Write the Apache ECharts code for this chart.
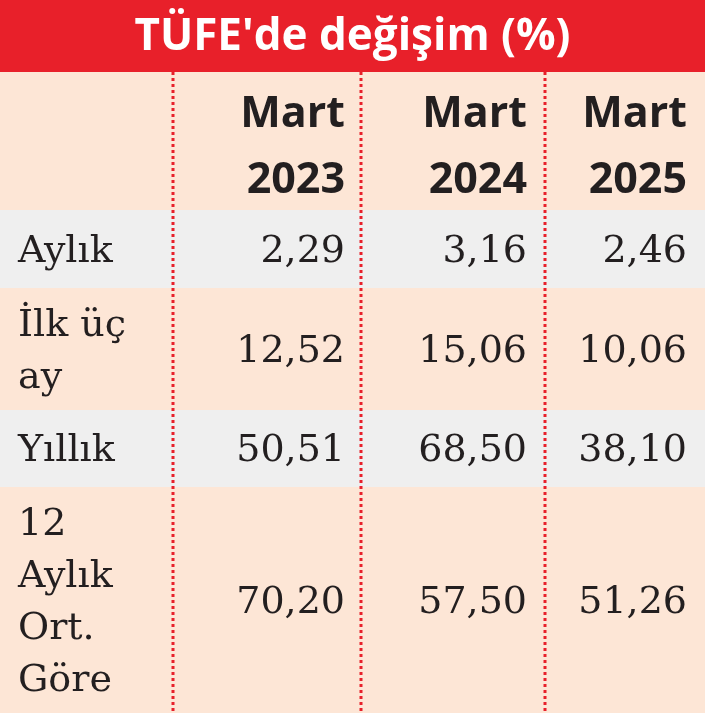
<!DOCTYPE html>
<html><head><meta charset="utf-8">
<script src="https://cdn.jsdelivr.net/npm/echarts@6/dist/echarts.min.js"></script>
<style>html,body{margin:0;padding:0;background:#fde6d6}#c{width:705px;height:713px}</style>
</head><body><div id="c"></div>
<script>
const title = "TÜFE'de değişim (%)";
const columns = ['Mart\n2023', 'Mart\n2024', 'Mart\n2025'];
const rowLabels = ['Aylık', 'İlk üç\nay', 'Yıllık', '12\nAylık\nOrt.\nGöre'];
const values = [
  ['2,29', '3,16', '2,46'],
  ['12,52', '15,06', '10,06'],
  ['50,51', '68,50', '38,10'],
  ['70,20', '57,50', '51,26'],
];

// layout
const W = 705, H = 713;
const rowEdges = [72, 210, 288, 410, 487, 713];
const colRight = [345, 527, 687];
const dividers = [173, 361, 545];
const red = '#e8202a', peach = '#fde6d6', grey = '#efefef';

const chart = echarts.init(document.getElementById('c'));
const g = [];
g.push({ type: 'rect', shape: { x: 0, y: 0, width: W, height: 72 }, style: { fill: red } });
g.push({ type: 'text', x: W / 2, y: 37, style: { text: title, fill: '#fff', font: 'bold 44px "Open Sans", sans-serif', align: 'center', verticalAlign: 'middle' } });
for (let i = 0; i < rowEdges.length - 1; i++) {
  g.push({ type: 'rect', shape: { x: 0, y: rowEdges[i], width: W, height: rowEdges[i + 1] - rowEdges[i] },
    style: { fill: i % 2 === 1 ? grey : peach } });
}
columns.forEach((c, j) => {
  g.push({ type: 'text', x: colRight[j], y: 148, style: { text: c, fill: '#231f20', font: 'bold 43px "Open Sans", sans-serif', lineHeight: 66, align: 'right', verticalAlign: 'middle' } });
});
rowLabels.forEach((lab, i) => {
  const cy = (rowEdges[i + 1] + rowEdges[i + 2]) / 2 + 3;
  g.push({ type: 'text', x: 18, y: cy, style: { text: lab, fill: '#231f20', font: '38px "DejaVu Serif", serif', lineHeight: 52, align: 'left', verticalAlign: 'middle' } });
  values[i].forEach((v, j) => {
    g.push({ type: 'text', x: colRight[j], y: cy, style: { text: v, fill: '#231f20', font: '38px "DejaVu Serif", serif', align: 'right', verticalAlign: 'middle' } });
  });
});
dividers.forEach(x => {
  g.push({ type: 'line', shape: { x1: x, y1: 72, x2: x, y2: H }, style: { stroke: red, lineWidth: 3, lineDash: [3, 3] } });
});
chart.setOption({ animation: false, graphic: g });
</script></body></html>
